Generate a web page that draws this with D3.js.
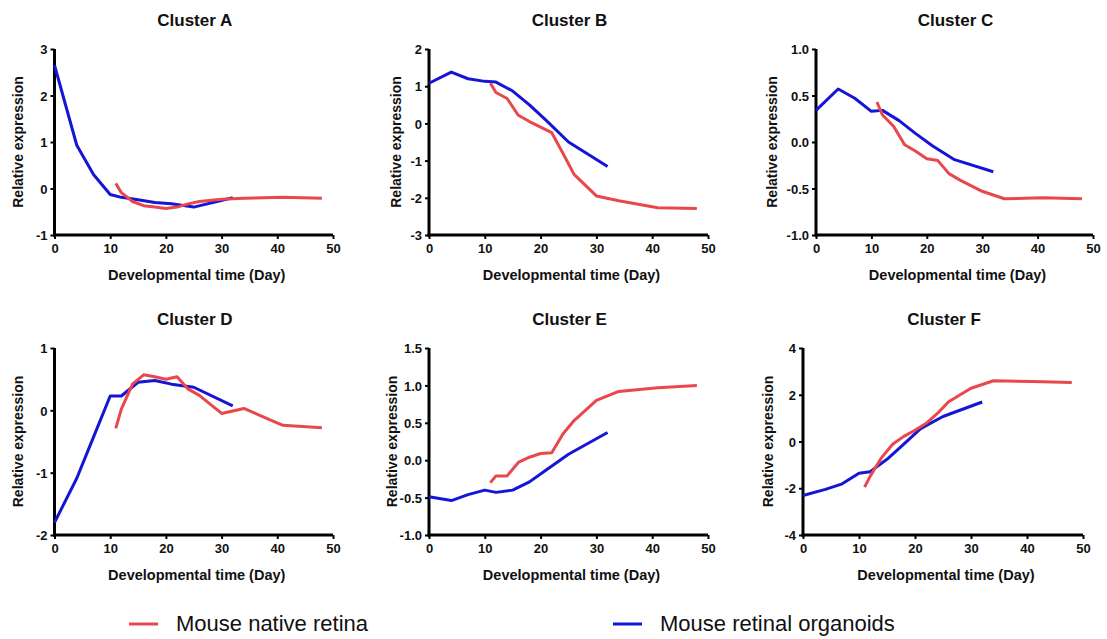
<!DOCTYPE html>
<html>
<head>
<meta charset="utf-8">
<script src="https://cdn.jsdelivr.net/npm/d3@7"></script>
<style>
  html, body { margin: 0; padding: 0; background: #fff; }
  svg { display: block; }
  text { font-family: Arial, "Liberation Sans", sans-serif; fill: #111; }
</style>
</head>
<body>
<svg id="chart" width="1107" height="639"></svg>
<script>
// ---- Data ----
const nativeDays   = [11, 12, 14, 16, 18, 20, 22, 24, 26, 30, 34, 41, 48];
const organoidDays = [0, 4, 7, 10, 12, 15, 18, 21, 25, 32];

const clusterNames = ["Cluster A", "Cluster B", "Cluster C", "Cluster D", "Cluster E", "Cluster F"];

const nativeA   = [0.11, -0.09, -0.28, -0.37, -0.40, -0.43, -0.40, -0.33, -0.28, -0.23, -0.21, -0.19, -0.21];
const organoidA = [2.65, 0.93, 0.30, -0.13, -0.19, -0.24, -0.30, -0.33, -0.40, -0.20];

const nativeB   = [1.08, 0.83, 0.67, 0.22, 0.05, -0.10, -0.25, -0.80, -1.37, -1.95, -2.08, -2.27, -2.29];
const organoidB = [1.08, 1.38, 1.20, 1.13, 1.11, 0.87, 0.50, 0.08, -0.50, -1.16];

const nativeC   = [0.43, 0.29, 0.17, -0.03, -0.10, -0.18, -0.20, -0.34, -0.41, -0.53, -0.61, -0.60, -0.61];
const organoidC = [0.34, 0.57, 0.47, 0.33, 0.34, 0.23, 0.09, -0.04, -0.19, -0.32];

const nativeD   = [-0.29, 0.02, 0.42, 0.57, 0.54, 0.50, 0.54, 0.34, 0.24, -0.05, 0.03, -0.24, -0.28];
const organoidD = [-1.80, -1.09, -0.43, 0.23, 0.23, 0.45, 0.48, 0.42, 0.37, 0.07];

const nativeE   = [-0.30, -0.21, -0.21, -0.03, 0.04, 0.09, 0.10, 0.35, 0.53, 0.80, 0.92, 0.97, 1.00];
const organoidE = [-0.49, -0.54, -0.46, -0.40, -0.43, -0.40, -0.29, -0.13, 0.08, 0.37];

const nativeF   = [-1.95, -1.48, -0.70, -0.12, 0.22, 0.48, 0.78, 1.20, 1.70, 2.28, 2.60, 2.57, 2.52];
const organoidF = [-2.31, -2.05, -1.81, -1.36, -1.29, -0.76, -0.11, 0.55, 1.07, 1.69];

const nativeSeries   = [nativeA, nativeB, nativeC, nativeD, nativeE, nativeF];
const organoidSeries = [organoidA, organoidB, organoidC, organoidD, organoidE, organoidF];

const yDomains = [[-1, 3], [-3, 2], [-1, 1], [-2, 1], [-1, 1.5], [-4, 4]];
const yTicks = [
  [-1, 0, 1, 2, 3],
  [-3, -2, -1, 0, 1, 2],
  [-1.0, -0.5, 0.0, 0.5, 1.0],
  [-2, -1, 0, 1],
  [-1.0, -0.5, 0.0, 0.5, 1.0, 1.5],
  [-4, -2, 0, 2, 4]
];
const yDecimals = [0, 0, 1, 0, 1, 0];
const xTicks = [0, 10, 20, 30, 40, 50];

const seriesNames = ["Mouse native retina", "Mouse retinal organoids"];
const xTitle = "Developmental time (Day)";
const yTitle = "Relative expression";

// ---- Layout / styling ----
const RED = "#e8474c", BLUE = "#1515d6";
const layout = [
  { l: 54.5, r: 333, t: 49,  b: 235, yl: 37 },
  { l: 429,  r: 708, t: 49,  b: 235, yl: 33 },
  { l: 816,  r: 1093, t: 49, b: 235, yl: 44 },
  { l: 54.5, r: 333, t: 348, b: 535, yl: 37 },
  { l: 429,  r: 708, t: 348, b: 535, yl: 37 },
  { l: 803,  r: 1083, t: 348, b: 535, yl: 35 }
];

const svg = d3.select("#chart");

layout.forEach((L, i) => {
  const x = d3.scaleLinear().domain([0, 50]).range([L.l, L.r]);
  const y = d3.scaleLinear().domain(yDomains[i]).range([L.b, L.t]);
  const g = svg.append("g");
  const fmt = v => v.toFixed(yDecimals[i]).replace("\u2212", "-");

  // title
  g.append("text")
    .attr("x", (L.l + L.r) / 2 + 1)
    .attr("y", L.t - 23)
    .attr("text-anchor", "middle")
    .style("font-size", "17px").style("font-weight", "bold")
    .text(clusterNames[i]);

  // x axis
  const xa = g.append("g").attr("transform", `translate(0,${L.b})`)
    .call(d3.axisBottom(x).tickValues(xTicks).tickFormat(v => String(v)).tickSize(4).tickSizeOuter(0).tickPadding(4));
  // y axis
  const ya = g.append("g").attr("transform", `translate(${L.l},0)`)
    .call(d3.axisLeft(y).tickValues(yTicks[i]).tickFormat(fmt).tickSize(4).tickSizeOuter(0).tickPadding(3));

  [xa, ya].forEach(a => {
    a.select(".domain").attr("stroke", "#000").attr("stroke-width", 3);
    a.selectAll(".tick line").attr("stroke", "#000").attr("stroke-width", 2);
    a.selectAll(".tick text")
      .style("font-size", "13px").style("font-weight", "bold")
      .style("font-family", "Arial, 'Liberation Sans', sans-serif").attr("fill", "#111");
  });
  ya.selectAll(".tick text").attr("dy", "0.36em");
  xa.selectAll(".tick text").attr("dy", "0.75em");
  // extend domains to overlap at the corner
  xa.select(".domain").attr("d", `M${L.l - 1.5},0H${L.r}`);
  ya.select(".domain").attr("d", `M0,${L.b + 1.5}V${L.t}`);

  // x title
  g.append("text")
    .attr("x", (L.l + L.r) / 2 + 3)
    .attr("y", L.b + 45)
    .attr("text-anchor", "middle")
    .style("font-size", "14.5px").style("font-weight", "bold")
    .text(xTitle);

  // y title
  g.append("text")
    .attr("transform", `translate(${L.l - L.yl},${(L.t + L.b) / 2}) rotate(-90)`)
    .attr("text-anchor", "middle")
    .attr("dominant-baseline", "central")
    .style("font-size", "14px").style("font-weight", "bold")
    .text(yTitle);

  const line = d3.line().x(d => x(d[0])).y(d => y(d[1]));

  g.append("path")
    .datum(organoidDays.map((d, k) => [d, organoidSeries[i][k]]))
    .attr("fill", "none").attr("stroke", BLUE).attr("stroke-width", 3)
    .attr("stroke-linejoin", "round").attr("stroke-linecap", "butt")
    .attr("d", line);

  g.append("path")
    .datum(nativeDays.map((d, k) => [d, nativeSeries[i][k]]))
    .attr("fill", "none").attr("stroke", RED).attr("stroke-width", 3)
    .attr("stroke-linejoin", "round").attr("stroke-linecap", "butt")
    .attr("d", line);
});

// legend
const legend = [
  { name: seriesNames[0], color: RED,  x: 129 },
  { name: seriesNames[1], color: BLUE, x: 613 }
];
legend.forEach(d => {
  svg.append("line")
    .attr("x1", d.x).attr("x2", d.x + 29)
    .attr("y1", 624).attr("y2", 624)
    .attr("stroke", d.color).attr("stroke-width", 3);
  svg.append("text")
    .attr("x", d.x + 47).attr("y", 631)
    .style("font-size", "22px")
    .text(d.name);
});
</script>
</body>
</html>
